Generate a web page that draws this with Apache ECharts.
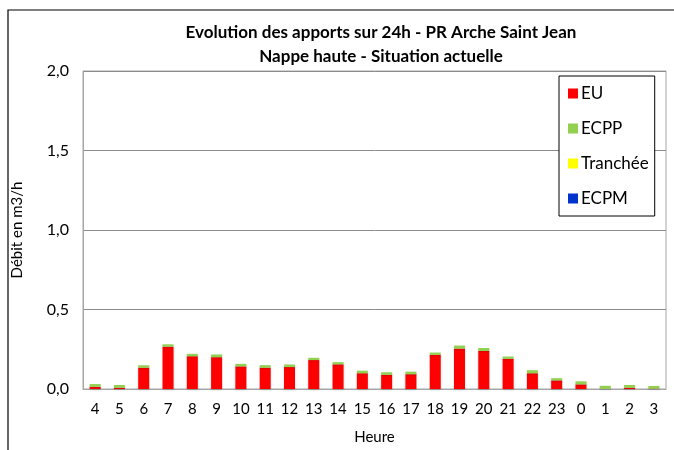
<!DOCTYPE html>
<html>
<head>
<meta charset="utf-8">
<script src="https://cdn.jsdelivr.net/npm/echarts@6/dist/echarts.min.js"></script>
<style>
  html, body { margin: 0; padding: 0; background: #fff; }
  #main { width: 674px; height: 450px; }
</style>
</head>
<body>
<div id="main"></div>
<script>
// heures (de 4h à 3h)
var heures = ['4', '5', '6', '7', '8', '9', '10', '11', '12', '13', '14', '15',
  '16', '17', '18', '19', '20', '21', '22', '23', '0', '1', '2', '3'];
// débits en m3/h
var euData = [0.014, 0.008, 0.134, 0.266, 0.206, 0.200, 0.142, 0.134, 0.138, 0.182, 0.155, 0.099,
  0.089, 0.093, 0.215, 0.254, 0.239, 0.190, 0.099, 0.054, 0.029, 0.001, 0.008, 0.002];
var ecppData = [0.017, 0.017, 0.015, 0.015, 0.015, 0.017, 0.016, 0.016, 0.016, 0.014, 0.014, 0.016,
  0.016, 0.016, 0.014, 0.019, 0.019, 0.014, 0.019, 0.014, 0.019, 0.019, 0.017, 0.017];
var trancheeData = [0, 0, 0, 0, 0, 0, 0, 0, 0, 0, 0, 0, 0, 0, 0, 0, 0, 0, 0, 0, 0, 0, 0, 0];
var ecpmData = [0, 0, 0, 0, 0, 0, 0, 0, 0, 0, 0, 0, 0, 0, 0, 0, 0, 0, 0, 0, 0, 0, 0, 0];

var police = 'Lato, "Open Sans", sans-serif';

var myChart = echarts.init(document.getElementById('main'));

function serie(nom, couleur, data) {
  return {
    name: nom,
    type: 'bar',
    stack: 'total',
    barWidth: 11,
    itemStyle: {
      color: couleur,
      shadowColor: 'rgba(0,0,0,0.18)',
      shadowBlur: 2,
      shadowOffsetY: 1
    },
    data: data
  };
}

var option = {
  backgroundColor: '#fff',
  animation: false,
  graphic: [{
    type: 'rect',
    shape: { x: 8, y: 10, width: 700, height: 500 },
    style: { fill: 'none', stroke: '#000', lineWidth: 1.2 },
    silent: true
  }],
  title: {
    text: 'Evolution des apports sur 24h - PR Arche Saint Jean\nNappe haute - Situation actuelle',
    left: 376,
    top: 16,
    textAlign: 'center',
    textStyle: {
      fontFamily: police,
      fontWeight: 'bold',
      fontSize: 17,
      lineHeight: 24,
      color: '#000'
    }
  },
  legend: {
    orient: 'vertical',
    left: 559,
    top: 76,
    width: 99,
    padding: [8, 6, 8, 9],
    itemGap: 16,
    itemWidth: 10,
    itemHeight: 10,
    icon: 'rect',
    backgroundColor: '#fff',
    borderColor: '#000',
    borderWidth: 1,
    textStyle: { fontFamily: police, fontSize: 17, lineHeight: 19, color: '#000', padding: [0, 0, 0, -2] },
    data: ['EU', 'ECPP', 'Tranchée', 'ECPM']
  },
  grid: {
    left: 83,
    right: 8,
    top: 71,
    bottom: 56,
    show: true,
    borderColor: '#a6a6a6',
    borderWidth: 1
  },
  xAxis: {
    type: 'category',
    data: heures,
    name: 'Heure',
    nameLocation: 'middle',
    nameGap: 41,
    nameTextStyle: { fontFamily: police, fontSize: 15, color: '#000' },
    axisLine: { lineStyle: { color: '#a6a6a6' } },
    axisTick: { show: false },
    axisLabel: { fontFamily: police, fontSize: 15, color: '#000', margin: 13, interval: 0 }
  },
  yAxis: {
    type: 'value',
    min: 0,
    max: 2,
    interval: 0.5,
    name: 'Débit en m3/h',
    nameLocation: 'middle',
    nameGap: 58,
    nameTextStyle: { fontFamily: police, fontSize: 15, color: '#000' },
    axisLine: { show: true, lineStyle: { color: '#a6a6a6' } },
    axisTick: { show: false },
    splitLine: { lineStyle: { color: '#8c8c8c' } },
    axisLabel: {
      fontFamily: police,
      fontSize: 16,
      color: '#000',
      margin: 14,
      formatter: function (v) { return v.toFixed(1).replace('.', ','); }
    }
  },
  series: [
    serie('EU', '#ff0000', euData),
    serie('ECPP', '#92d050', ecppData),
    serie('Tranchée', '#ffff00', trancheeData),
    serie('ECPM', '#0033cc', ecpmData)
  ]
};
myChart.setOption(option);
</script>
</body>
</html>
